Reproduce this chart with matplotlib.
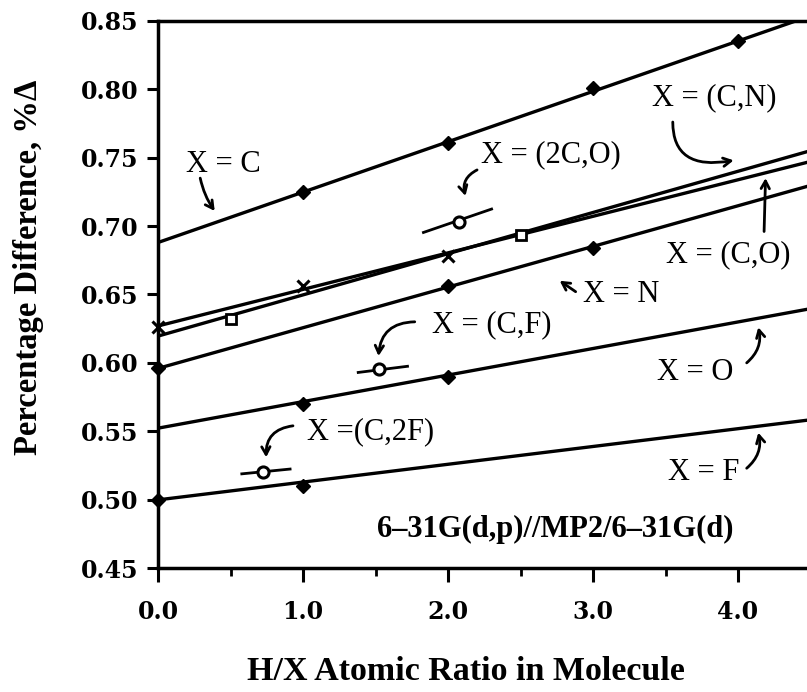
import numpy as np
import matplotlib
matplotlib.use("Agg")
import matplotlib.pyplot as plt

# ---------------- data ----------------
xC = [1.0, 2.0, 3.0, 4.0]
yC = [0.725, 0.761, 0.801, 0.835]
fitC = (0.688, 0.0368)

xCN = [0.0, 1.0, 2.0]
yCN = [0.626, 0.656, 0.678]
fitCN = (0.627, 0.0267)

xCO = [0.5, 2.5]
yCO = [0.632, 0.6936]
fitCO = (0.6196, 0.0301)

xN = [0.0, 2.0, 3.0]
yN = [0.596, 0.656, 0.684]
fitN = (0.596, 0.0297)

xO = [1.0, 2.0]
yO = [0.570, 0.5896]
fitO = (0.5523, 0.0194)

xF = [0.0, 1.0]
yF = [0.500, 0.510]
fitF = (0.4999, 0.0130)

# single open-circle points with short guide segments
single_x = [0.726, 1.526, 2.076]
single_y = [0.520, 0.5954, 0.7033]
seg_x0 = [0.577, 1.38, 1.83]
seg_x1 = [0.91, 1.72, 2.30]
seg_y0 = [0.5189, 0.593, 0.6953]
seg_y1 = [0.5224, 0.5975, 0.7124]

fit_range = [0.0, 4.5]
xticks_major = [0.0, 1.0, 2.0, 3.0, 4.0]
xtick_labels = ["0.0", "1.0", "2.0", "3.0", "4.0"]
yticks = [0.45, 0.50, 0.55, 0.60, 0.65, 0.70, 0.75, 0.80, 0.85]

# ---------------- figure ----------------
fig = plt.figure(figsize=(8.07, 6.92), dpi=100)
ax = fig.add_axes([0.196, 0.179, 0.804, 0.791])
ax.set_xlim(0, 4.476)
ax.set_ylim(0.45, 0.85)

LW = 2.4
fx = np.array(fit_range)
for (b, m) in [fitC, fitCN, fitCO, fitN, fitO, fitF]:
    ax.plot(fx, b + m * fx, color="black", lw=LW, solid_capstyle="butt")

dia = dict(marker="D", ms=7.5, color="black", ls="none", clip_on=False, zorder=5)
ax.plot(xC, yC, **dia)
ax.plot(xN, yN, **dia)
ax.plot(xO, yO, **dia)
ax.plot(xF, yF, **dia)
ax.plot(xCN, yCN, marker="x", ms=8, mew=2.2, color="black", ls="none", clip_on=False, zorder=5)
ax.plot(xCO, yCO, marker="s", ms=7, mew=2, mfc="white", mec="black", ls="none", zorder=5)

for i in range(len(single_x)):
    ax.plot([seg_x0[i], seg_x1[i]], [seg_y0[i], seg_y1[i]], color="black", lw=2)
ax.plot(single_x, single_y, marker="o", ms=8, mew=2.2, mfc="white", mec="black", ls="none", zorder=6)

# ---------------- axes styling ----------------
for s in ["left", "bottom", "top"]:
    ax.spines[s].set_linewidth(2.5)
ax.spines["right"].set_visible(False)

ax.set_yticks(yticks)
ax.set_yticklabels([f"{v:.2f}" for v in yticks])
ax.set_xticks(xticks_major)
ax.set_xticklabels(xtick_labels)
ax.set_xticks(np.arange(0.5, 4.5, 1.0), minor=True)
ax.tick_params(axis="y", direction="out", length=8, width=2.2, pad=6)
ax.tick_params(axis="x", which="major", direction="out", length=10, width=2.2, pad=13)
ax.tick_params(axis="x", which="minor", direction="out", length=6, width=2)

for lab in ax.get_xticklabels() + ax.get_yticklabels():
    lab.set_fontfamily("DejaVu Serif")
    lab.set_fontweight("bold")
    lab.set_fontsize(17)

ax.set_xlabel("H/X Atomic Ratio in Molecule", family="Liberation Serif",
              weight="bold", size=24.5, va="center")
ax.xaxis.set_label_coords(0.475, -0.188)
ax.set_ylabel("Percentage Difference, %\u0394", family="Liberation Serif",
              weight="bold", size=23.5, va="center")
ax.yaxis.set_label_coords(-0.200, 0.55)

# ---------------- annotations ----------------
tf = dict(family="Liberation Serif", size=22, color="black")
ap = dict(arrowstyle="->,head_length=0.55,head_width=0.3", color="black", lw=2,
          shrinkA=0, shrinkB=0)

ax.text(0.19, 0.745, "X = C", ha="left", va="center", **tf)
ax.annotate("", xy=(0.39, 0.711), xytext=(0.29, 0.735),
            arrowprops=dict(ap, connectionstyle="arc3,rad=0.1"))

ax.text(2.23, 0.752, "X = (2C,O)", ha="left", va="center", **tf)
ax.annotate("", xy=(2.12, 0.722), xytext=(2.20, 0.741),
            arrowprops=dict(ap, connectionstyle="arc3,rad=0.4"))

ax.text(3.41, 0.794, "X = (C,N)", ha="left", va="center", **tf)
ax.annotate("", xy=(3.97, 0.748), xytext=(3.55, 0.776),
            arrowprops=dict(ap, connectionstyle="angle3,angleA=-90,angleB=10"))

ax.text(3.50, 0.679, "X = (C,O)", ha="left", va="center", **tf)
ax.annotate("", xy=(4.19, 0.735), xytext=(4.18, 0.696),
            arrowprops=dict(ap, connectionstyle="arc3,rad=0"))

ax.text(2.93, 0.650, "X = N", ha="left", va="center", **tf)
ax.annotate("", xy=(2.77, 0.660), xytext=(2.88, 0.652),
            arrowprops=dict(ap, connectionstyle="arc3,rad=0"))

ax.text(1.89, 0.628, "X = (C,F)", ha="left", va="center", **tf)
ax.annotate("", xy=(1.52, 0.605), xytext=(1.77, 0.630),
            arrowprops=dict(ap, connectionstyle="arc3,rad=0.45"))

ax.text(3.44, 0.593, "X = O", ha="left", va="center", **tf)
ax.annotate("", xy=(4.14, 0.626), xytext=(4.06, 0.600),
            arrowprops=dict(ap, connectionstyle="arc3,rad=0.3"))

ax.text(1.03, 0.550, "X =(C,2F)", ha="left", va="center", **tf)
ax.annotate("", xy=(0.745, 0.531), xytext=(0.93, 0.554),
            arrowprops=dict(ap, connectionstyle="arc3,rad=0.45"))

ax.text(3.52, 0.520, "X = F", ha="left", va="center", **tf)
ax.annotate("", xy=(4.14, 0.549), xytext=(4.06, 0.523),
            arrowprops=dict(ap, connectionstyle="arc3,rad=0.3"))

ax.text(2.74, 0.478, "6\u201331G(d,p)//MP2/6\u201331G(d)", ha="center", va="center",
        family="Liberation Serif", weight="bold", size=22)

fig.savefig("out.png", dpi=100)
